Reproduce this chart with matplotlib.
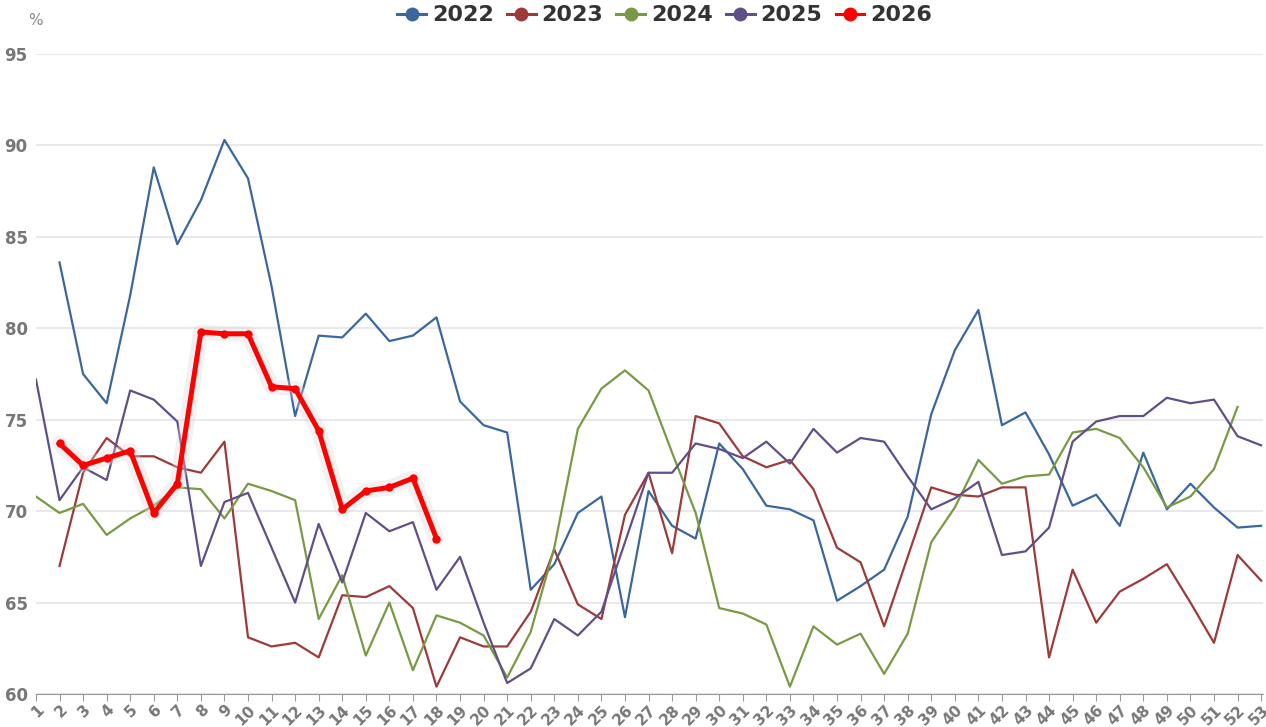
import matplotlib
matplotlib.use("Agg")
import matplotlib.pyplot as plt
import numpy as np

weeks = list(range(1, 54))

# weekly values, None where a year has no data
y2022 = [None, 83.6, 77.5, 75.9, 81.8, 88.8, 84.6, 87.0, 90.3, 88.2,
         82.3, 75.2, 79.6, 79.5, 80.8, 79.3, 79.6, 80.6, 76.0, 74.7,
         74.3, 65.7, 67.1, 69.9, 70.8, 64.2, 71.1, 69.2, 68.5, 73.7,
         72.3, 70.3, 70.1, 69.5, 65.1, 65.9, 66.8, 69.7, 75.3, 78.8,
         81.0, 74.7, 75.4, 73.1, 70.3, 70.9, 69.2, 73.2, 70.1, 71.5,
         70.2, 69.1, 69.2]
y2023 = [None, 67.0, 72.1, 74.0, 73.0, 73.0, 72.4, 72.1, 73.8, 63.1,
         62.6, 62.8, 62.0, 65.4, 65.3, 65.9, 64.7, 60.4, 63.1, 62.6,
         62.6, 64.5, 67.9, 64.9, 64.1, 69.8, 72.1, 67.7, 75.2, 74.8,
         73.0, 72.4, 72.8, 71.2, 68.0, 67.2, 63.7, 67.5, 71.3, 70.9,
         70.8, 71.3, 71.3, 62.0, 66.8, 63.9, 65.6, 66.3, 67.1, 65.0,
         62.8, 67.6, 66.2]
y2024 = [70.8, 69.9, 70.4, 68.7, 69.6, 70.3, 71.3, 71.2, 69.6, 71.5,
         71.1, 70.6, 64.1, 66.5, 62.1, 65.0, 61.3, 64.3, 63.9, 63.2,
         60.9, 63.4, 68.0, 74.5, 76.7, 77.7, 76.6, 73.2, 69.9, 64.7,
         64.4, 63.8, 60.4, 63.7, 62.7, 63.3, 61.1, 63.3, 68.3, 70.2,
         72.8, 71.5, 71.9, 72.0, 74.3, 74.5, 74.0, 72.4, 70.2, 70.8,
         72.3, 75.7, None]
y2025 = [77.2, 70.6, 72.4, 71.7, 76.6, 76.1, 74.9, 67.0, 70.5, 71.0,
         68.0, 65.0, 69.3, 66.1, 69.9, 68.9, 69.4, 65.7, 67.5, 63.9,
         60.6, 61.4, 64.1, 63.2, 64.5, 68.3, 72.1, 72.1, 73.7, 73.4,
         72.9, 73.8, 72.6, 74.5, 73.2, 74.0, 73.8, 71.9, 70.1, 70.7,
         71.6, 67.6, 67.8, 69.1, 73.8, 74.9, 75.2, 75.2, 76.2, 75.9,
         76.1, 74.1, 73.6]
y2026 = [None, 73.7, 72.5, 72.9, 73.3, 69.9, 71.5, 79.8, 79.7, 79.7,
         76.8, 76.7, 74.4, 70.1, 71.1, 71.3, 71.8, 68.5]

years = ["2022", "2023", "2024", "2025", "2026"]
colors = ["#3b679c", "#9c3b3a", "#789a44", "#614f88", "#ff0000"]
series = [y2022, y2023, y2024, y2025, y2026]

fig = plt.figure(figsize=(12.66, 7.27), dpi=100)
ax = fig.add_axes([0.0284, 0.0454, 0.9696, 0.8803])

for name, col, vals in zip(years, colors, series):
    y = np.array([np.nan if v is None else v for v in vals], dtype=float)
    x = weeks[:len(y)]
    if name == "2026":
        # soft grey glow under the current year
        ax.plot(x, y, color="#d8d8d8", lw=11, alpha=0.35, zorder=4,
                solid_capstyle="round", solid_joinstyle="round")
        ax.plot(x, y, color=col, lw=3.6, marker="o", ms=5, zorder=5)
    else:
        ax.plot(x, y, color=col, lw=1.6, zorder=3)

handles = [plt.Line2D([], [], color=c, lw=2.2, marker="o", ms=9) for c in colors]
leg = fig.legend(handles, years, loc="upper center", bbox_to_anchor=(0.525, 1.02),
                 ncol=5, frameon=False, handlelength=1.3, handletextpad=0.25,
                 columnspacing=0.6, prop={"weight": "bold", "size": 16})
for t in leg.get_texts():
    t.set_color("#333333")

ax.set_xlim(1, 53.1)
ax.set_ylim(60, 95)
ax.set_yticks([60, 65, 70, 75, 80, 85, 90, 95])
ax.set_xticks(weeks)
ax.set_xticklabels([str(w) for w in weeks], rotation=45, ha="right",
                   rotation_mode="anchor", fontsize=11, fontweight="bold", color="#777777")
for lab in ax.get_yticklabels():
    lab.set_fontsize(12)
    lab.set_fontweight("bold")
    lab.set_color("#777777")

ax.grid(axis="y", color="#e8e8ee", lw=1.5)
ax.set_axisbelow(True)
for s in ["top", "right", "left"]:
    ax.spines[s].set_visible(False)
ax.spines["bottom"].set_color("#999999")
ax.tick_params(axis="y", length=0, pad=6)
ax.tick_params(axis="x", length=5, color="#999999", pad=1)

fig.text(0.022, 0.965, "%", fontsize=11, color="#888888")

fig.savefig("out.png", dpi=100)
